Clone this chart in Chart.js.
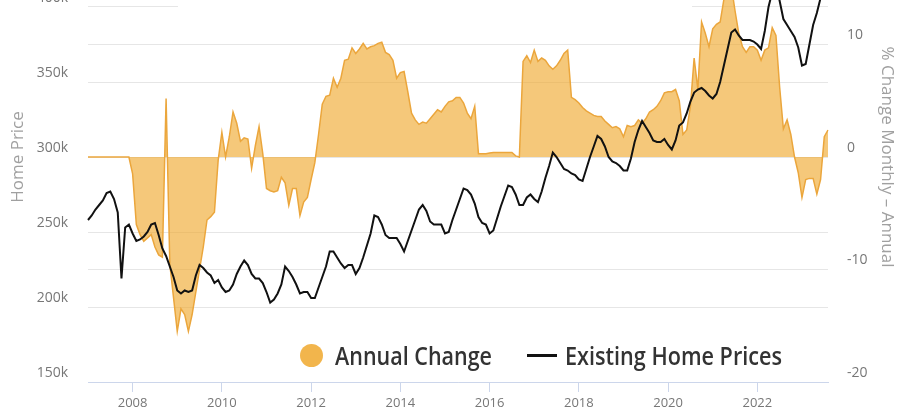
<!DOCTYPE html>
<html><head><meta charset="utf-8">
<script src="https://cdn.jsdelivr.net/npm/chart.js@4"></script>
<style>
html,body{margin:0;padding:0;background:#fff;overflow:hidden;width:900px;height:415px;}
#wrap{position:absolute;left:0;top:-100px;width:900px;height:515px;}
.leg{position:absolute;font-family:'Open Sans',sans-serif;font-weight:600;font-size:25px;color:#333;line-height:30px;top:340px;white-space:nowrap;transform-origin:0 50%;}
#titlebox{position:absolute;left:178px;top:0;width:514px;height:12px;background:#fff;}
</style></head><body>
<div id="wrap"><canvas id="c" width="900" height="515"></canvas></div>
<div id="titlebox"></div>
<div style="position:absolute;left:300px;top:343.5px;width:23px;height:23px;border-radius:50%;background:#f2b54c"></div>
<span class="leg" id="t1" style="left:335px">Annual Change</span>
<div style="position:absolute;left:527px;top:353.5px;width:30px;height:3px;background:#111"></div>
<span class="leg" id="t2" style="left:565px">Existing Home Prices</span>
<script>
// Existing home prices (thousands of dollars), monthly from 2007-01
const homePriceK = [
  258,261,265,268,271,276,277,272,263,219,253,255,
  249,244,245,247,250,255,256,248,239,234,227,220,
  211,209,211,210,211,221,228,226,223,221,216,218,
  213,210,211,215,222,227,231,228,222,219,219,216,
  210,203,205,209,215,227,224,220,215,209,210,210,
  206,206,213,220,227,237,237,233,229,226,228,228,
  222,226,233,241,249,261,260,255,248,246,246,246,
  242,237,244,251,258,265,268,264,257,255,255,255,
  249,250,258,265,272,279,278,275,269,260,256,255,
  249,251,259,267,274,281,280,275,268,268,273,275,
  272,270,277,286,294,303,300,296,292,291,289,288,
  285,284,292,300,307,314,312,307,300,297,296,294,
  291,291,299,310,318,324,320,316,311,310,310,312,
  308,305,311,321,323,329,337,343,345,346,344,341,
  339,342,350,361,372,383,385,381,378,378,378,377,
  375,372,384,400,410,416,404,392,388,384,380,373,
  361,362,375,388,396,406,414,422
];
// Annual change (%), monthly from 2007-01
const annualChange = [
  0,0,0,0,0,0,0,0,0,0,0,0,
  -1.5,-6,-6.9,-7.5,-7.2,-6.9,-8,-8.7,-8.9,5.2,-9.5,-12.5,
  -15.5,-13.5,-14,-15.5,-14,-12,-10,-8,-5.6,-5.3,-4.9,-0.3,
  2.2,0,1.8,4.0,3,1.4,1.7,1.6,-1,1,2.7,0.3,
  -2.8,-3,-3.1,-3,-1.8,-2.3,-4.3,-2.8,-2.8,-5.2,-4,-3.6,
  -2,-0.5,2,4.7,5.4,5.5,7,6.2,7,8.6,8.7,9.7,
  9.2,9.6,10.1,9.6,9.8,9.9,10.1,10.2,9.3,9.1,8.6,7.0,
  7.5,7.6,5.8,3.9,3.3,2.9,3.1,3.0,3.4,3.8,4.2,4.0,
  4.5,4.9,5.0,5.3,5.3,4.8,3.9,3.4,4.5,0.3,0.3,0.3,
  0.35,0.4,0.4,0.4,0.4,0.4,0.4,0.1,0,8.5,9.0,8.4,
  9.5,8.5,8.8,8.6,8.1,7.8,8.1,8.6,9.2,9.5,5.3,5.1,
  4.8,4.4,4.1,3.9,3.7,3.6,3.6,3.2,2.9,2.6,2.7,2.5,
  1.8,2.8,2.7,2.8,3.3,3.0,3.4,4.0,4.2,4.5,5.0,5.7,
  5.8,5.8,6.0,5.0,2.0,2.4,4.5,8.8,6.0,12.0,11.0,9.8,
  11.4,11.8,12.0,14,15.5,15.2,13,11,9.8,9.3,9.8,9.8,
  9.5,8.6,9.5,9.7,11.5,10.8,6.2,2.5,3.3,2.0,0,-1.4,
  -3.6,-2.0,-1.9,-1.9,-3.3,-2.0,1.8,2.4
];
const monthLabels = [];
for (let y = 2007; y <= 2023; y++) {
  for (let m = 1; m <= 12; m++) {
    if (monthLabels.length < annualChange.length) monthLabels.push(y + '-' + String(m).padStart(2, '0'));
  }
}
const yearTickMonth = '-01';
const yearTickYears = ['2008','2010','2012','2014','2016','2018','2020','2022'];
const isYearTick = i => monthLabels[i] && monthLabels[i].endsWith(yearTickMonth) && yearTickYears.includes(monthLabels[i].slice(0,4));

const tickFont = {family: "'Open Sans', sans-serif", size: 14};
const titleFont = {family: "'Open Sans', sans-serif", size: 17};

new Chart(document.getElementById('c'), {
  type: 'line',
  data: {
    labels: monthLabels,
    datasets: [
      {label: 'Existing Home Prices', data: homePriceK, yAxisID: 'y', borderColor: '#111',
       borderWidth: 2, pointRadius: 0, tension: 0, fill: false, order: 0},
      {label: 'Annual Change', data: annualChange, yAxisID: 'y1', borderColor: '#eba63c',
       borderWidth: 1.5, backgroundColor: 'rgba(240,170,50,0.65)', pointRadius: 0, tension: 0,
       fill: 'origin', order: 1}
    ]
  },
  options: {
    responsive: false, animation: false, devicePixelRatio: 1,
    layout: {padding: {top: 32, left: 0, right: 0, bottom: 0}},
    plugins: {legend: {display: false}, tooltip: {enabled: false}},
    scales: {
      x: {
        type: 'category', offset: false,
        grid: {drawOnChartArea: false, drawTicks: true, tickLength: 10, lineWidth: 1,
               color: c => isYearTick(c.index) ? '#ccd6eb' : 'rgba(0,0,0,0)'},
        border: {display: true, color: '#ccd6eb', width: 1},
        ticks: {autoSkip: false, maxRotation: 0, minRotation: 0, padding: 3, color: '#777',
                font: {family: "'Open Sans', sans-serif", size: 13},
                callback: (v, i) => isYearTick(i) ? monthLabels[i].slice(0, 4) : ''},
        afterFit: s => { s.height = 33; }
      },
      y: {
        position: 'left', min: 150, max: 450,
        ticks: {stepSize: 50, padding: 20, labelOffset: -9, color: '#777', font: tickFont,
                callback: v => v + 'k'},
        grid: {color: '#e6e6e6', drawTicks: false},
        border: {display: false},
        title: {display: true, text: 'Home Price', color: '#a0a0a0', font: titleFont,
                padding: {top: 8, bottom: 0}},
        afterFit: s => { s.width = 88; }
      },
      y1: {
        position: 'right', min: -20, max: 20,
        ticks: {stepSize: 10, padding: 19, labelOffset: -9, color: '#777', font: tickFont},
        grid: {color: '#e6e6e6', drawTicks: false},
        border: {display: false},
        title: {display: true, text: '% Change Monthly – Annual', color: '#a0a0a0', font: titleFont,
                padding: {top: 3, bottom: 0}},
        afterFit: s => { s.width = 72; }
      }
    }
  }
});

// fit legend texts to their measured widths in the reference
[['t1', 157], ['t2', 217]].forEach(([id, w]) => {
  const el = document.getElementById(id);
  const nat = el.getBoundingClientRect().width;
  if (nat > 0) el.style.transform = 'scaleX(' + (w / nat) + ')';
});
</script>
</body></html>
